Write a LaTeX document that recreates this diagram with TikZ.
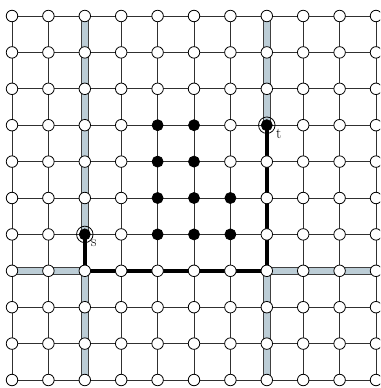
\documentclass[tikz,border=0pt]{standalone}
\usetikzlibrary{calc}
\definecolor{bandfill}{HTML}{BCCDD6}
\definecolor{bandedge}{HTML}{404040}
\definecolor{gridc}{HTML}{303030}
\begin{document}
\begin{tikzpicture}[x=1pt,y=-1pt,
  vtx/.style={circle,draw=black,fill=white,line width=0.8pt,inner sep=0pt,minimum size=11.5pt},
  bvtx/.style={vtx,fill=black,minimum size=11pt},
  ring/.style={circle,draw=black,line width=0.8pt,inner sep=0pt,minimum size=16.5pt},
  gridedge/.style={draw=gridc,line width=1pt},
  bandout/.style={draw=bandedge,line width=8pt},
  bandin/.style={draw=bandfill,line width=5.6pt},
  pathedge/.style={draw=black,line width=4pt},
  lab/.style={font=\fontsize{15}{17}\selectfont,inner sep=0pt}
]
\useasboundingbox (0,0) rectangle (380,388);
\clip (0,0) rectangle (380,388);
\foreach \i in {0,...,10}{
  \foreach \j in {0,...,10}{
    \coordinate (c-\i-\j) at ({12+36.4*\i},{16+36.4*\j});
  }
}
% grid edges
\foreach \i in {0,...,9}{
  \pgfmathtruncatemacro\ni{\i+1}
  \foreach \j in {0,...,10}{
    \draw[gridedge] (c-\i-\j) -- (c-\ni-\j);
    \draw[gridedge] (c-\j-\i) -- (c-\j-\ni);
  }
}
% bands (parts not covered by the path)
\foreach \a/\b in {c-2-0/c-2-6, c-2-7/c-2-10, c-7-0/c-7-3, c-7-7/c-7-10, c-0-7/c-2-7, c-7-7/c-10-7}{
  \draw[bandout] (\a) -- (\b);
  \draw[bandin] (\a) -- (\b);
}
% path s -> t
\draw[pathedge,line join=miter] (c-2-6) -- (c-2-7) -- (c-7-7) -- (c-7-3);
% vertices
\foreach \i in {0,...,10}{
  \foreach \j in {0,...,10}{
    \pgfmathtruncatemacro\isb{((\j==3||\j==4)&&(\i==4||\i==5)) || ((\j==5||\j==6)&&(\i>=4&&\i<=6)) || (\i==2&&\j==6) || (\i==7&&\j==3)}
    \ifnum\isb=1
      \node[bvtx] (v-\i-\j) at (c-\i-\j) {};
    \else
      \node[vtx] (v-\i-\j) at (c-\i-\j) {};
    \fi
  }
}
\node[ring] (sring) at (c-2-6) {};
\node[ring] (tring) at (c-7-3) {};
\node[lab] (slab) at ($(c-2-6)+(9,9)$) {s};
\node[lab] (tlab) at ($(c-7-3)+(12,9)$) {t};
\end{tikzpicture}
\end{document}
